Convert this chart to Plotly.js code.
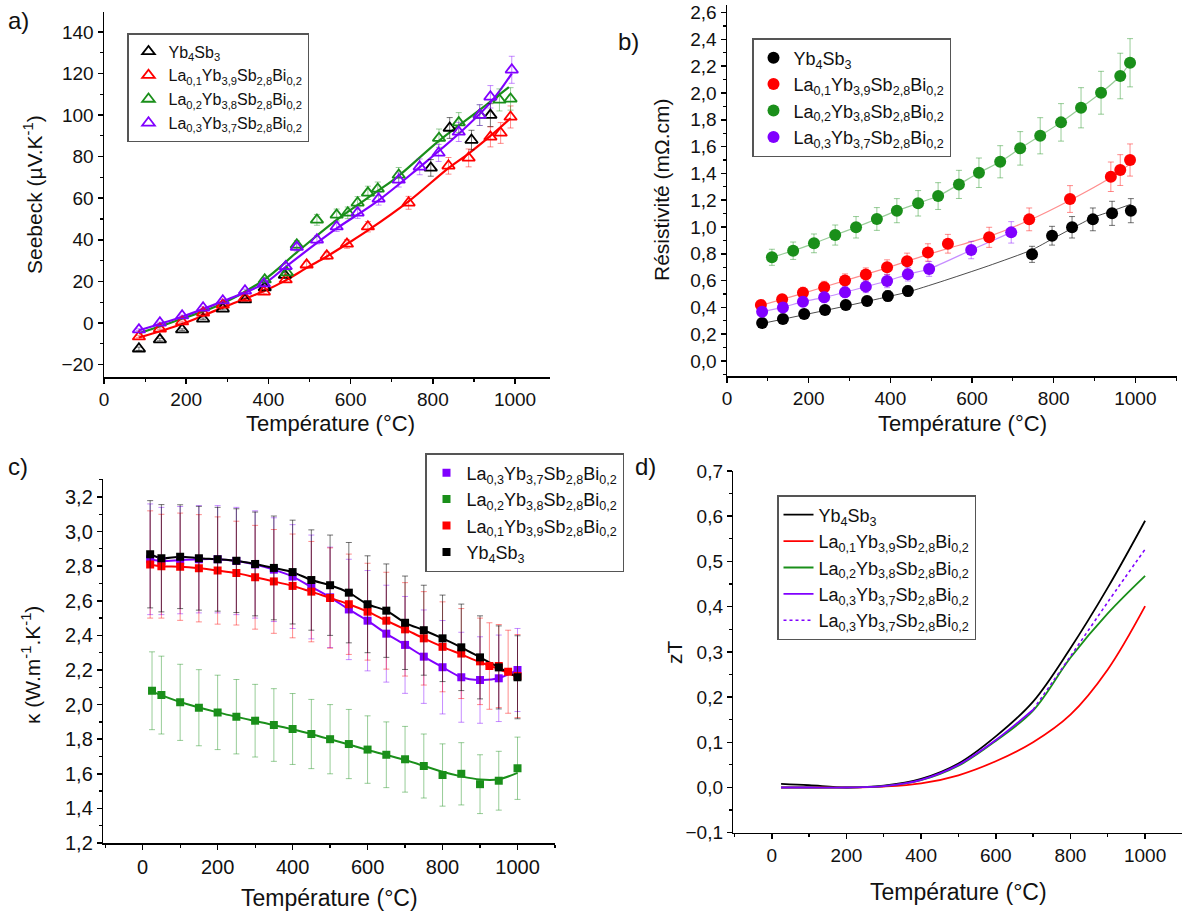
<!DOCTYPE html>
<html><head><meta charset="utf-8">
<script src="https://cdn.plot.ly/plotly-3.0.1.min.js"></script>
<style>html,body{margin:0;padding:0;background:#fff}#chart{width:1183px;height:915px}</style>
</head><body><div id="chart"></div>
<script>
// ---------- names ----------
const nameYb  = 'Yb<sub>4</sub>Sb<sub>3</sub>';
const nameLa1 = 'La<sub>0,1</sub>Yb<sub>3,9</sub>Sb<sub>2,8</sub>Bi<sub>0,2</sub>';
const nameLa2 = 'La<sub>0,2</sub>Yb<sub>3,8</sub>Sb<sub>2,8</sub>Bi<sub>0,2</sub>';
const nameLa3 = 'La<sub>0,3</sub>Yb<sub>3,7</sub>Sb<sub>2,8</sub>Bi<sub>0,2</sub>';

// ---------- a) Seebeck ----------
const Ta_Yb = [85,136,190,241,289,343,391,440,795,841,894,940];
const Sa_Yb = [-12.4,-8.0,-3.2,2.0,6.8,11.2,17.0,23.0,74.6,93.8,88.0,100.0];
const Ea_Yb = [0.8,0.6,0.4,0.4,0.5,0.7,1.0,1.3,4.0,5.0,4.7,5.5];
const Ta_La1 = [85,136,190,241,289,343,389,442,493,542,591,642,741,838,887,940,965,989];
const Sa_La1 = [-6.6,-2.8,0.6,4.9,8.7,12.1,15.0,20.8,28.0,32.3,38.0,46.3,57.8,75.6,79.4,89.5,91.4,99.1];
const Ea_La1 = [0.5,0.4,0.3,0.4,0.6,0.8,1.0,1.3,1.6,1.8,2.1,2.5,3.1,4.0,4.3,4.8,5.0,5.3];
const Ta_La2 = [391,445,469,518,566,593,617,642,666,717,815,863,914,962,989];
const Sa_La2 = [20.8,24.2,37.6,49.6,52.0,53.0,57.8,62.6,64.5,71.2,88.9,96.4,100.0,107.3,107.8];
const Ea_La2 = [1.2,1.4,2.0,2.6,2.8,2.8,3.0,3.2,3.3,3.6,4.4,4.8,5.0,5.3,5.4];
const Ta_La3 = [85,136,190,241,289,343,389,442,469,518,566,617,668,717,768,814,863,914,940,992];
const Sa_La3 = [-3.2,0.1,3.5,7.3,10.7,15.5,18.9,27.2,36.5,40.0,46.3,53.0,59.7,68.8,75.1,81.8,91.9,100.0,108.8,121.8];
const Ea_La3 = [0.4,0.3,0.3,0.5,0.6,0.8,1.0,1.4,1.9,2.0,2.3,2.7,3.0,3.4,3.8,4.1,4.6,5.0,5.4,6.5];
// fitted curves
const FaT_La1 = [85,190,290,391,442,493,542,591,642,741,838,887,940,989];
const FaS_La1 = [-7,-0.5,7.5,15.5,20.5,26.5,32,38,44.5,58.5,74.5,81.5,90,98.5];
const FaT_La2 = [85,190,290,391,469,566,666,717,814,914,985];
const FaS_La2 = [-5,2,9.5,21,34,49.6,63.5,70.8,87.5,102.5,113.5];
const FaT_La3 = [85,190,290,390,442,518,566,668,768,863,940,992];
const FaS_La3 = [-3.5,3,10.5,19,27,38.5,45.5,59,75,91,106,120];

// ---------- b) Resistivity ----------
const Tb_Yb = [86,137,189,240,291,343,394,443,747,796,845,896,943,989];
const Rb_Yb = [0.284,0.313,0.35,0.38,0.418,0.448,0.485,0.522,0.796,0.935,0.998,1.057,1.102,1.122];
const Eb_Yb = [0.025,0.025,0.03,0.03,0.035,0.035,0.04,0.04,0.06,0.07,0.08,0.085,0.09,0.09];
const Tb_La1 = [83,135,186,238,289,340,392,441,492,541,642,740,840,940,963,987];
const Rb_La1 = [0.418,0.46,0.51,0.55,0.60,0.645,0.70,0.745,0.81,0.875,0.923,1.057,1.209,1.375,1.425,1.5];
const Eb_La1 = [0.03,0.035,0.04,0.045,0.05,0.05,0.055,0.06,0.065,0.07,0.075,0.085,0.1,0.11,0.115,0.12];
const Tb_La2 = [110,162,213,265,316,367,416,468,517,568,617,669,718,767,818,867,916,963,987];
const Rb_La2 = [0.774,0.823,0.878,0.94,0.998,1.06,1.122,1.177,1.231,1.318,1.405,1.487,1.587,1.681,1.781,1.89,2.002,2.127,2.226];
const Eb_La2 = [0.06,0.065,0.07,0.075,0.08,0.085,0.09,0.095,0.1,0.105,0.11,0.12,0.125,0.135,0.14,0.15,0.16,0.17,0.18];
const Tb_La3 = [86,137,186,238,289,340,392,443,495,598,696];
const Rb_La3 = [0.368,0.40,0.443,0.475,0.513,0.555,0.597,0.647,0.687,0.828,0.96];
const Eb_La3 = [0.03,0.03,0.035,0.04,0.04,0.045,0.05,0.05,0.055,0.065,0.08];
// fitted curves
const FbT_Yb = [86,189,291,394,443,522,640,747,796,845,896,943,989];
const FbR_Yb = [0.28,0.345,0.41,0.48,0.515,0.59,0.71,0.83,0.91,0.99,1.07,1.12,1.17];
const FbT_La1 = [83,186,289,392,441,492,541,642,740,840,940,987];
const FbR_La1 = [0.415,0.505,0.60,0.695,0.745,0.795,0.84,0.93,1.05,1.2,1.37,1.47];

// ---------- c) Thermal conductivity ----------
const Tc = [20,50,100,150,200,250,300,350,400,450,500,550,600,650,700,750,800,850,900,950,1000];
const Kc_Yb  = [2.869,2.846,2.855,2.846,2.84,2.832,2.813,2.79,2.766,2.72,2.69,2.647,2.58,2.543,2.473,2.43,2.383,2.331,2.273,2.215,2.158];
const Ec_Yb  = [0.31,0.31,0.30,0.30,0.30,0.30,0.30,0.30,0.30,0.29,0.29,0.29,0.28,0.27,0.27,0.26,0.25,0.25,0.24,0.24,0.24];
const Kc_La3 = [2.84,2.83,2.835,2.84,2.84,2.83,2.81,2.78,2.74,2.68,2.62,2.55,2.485,2.41,2.345,2.277,2.216,2.158,2.142,2.152,2.2];
const Ec_La3 = [0.32,0.31,0.31,0.31,0.31,0.31,0.31,0.30,0.30,0.30,0.29,0.29,0.29,0.28,0.28,0.27,0.27,0.26,0.25,0.25,0.24];
const Tc_La1 = [20,50,100,150,200,250,300,350,400,450,500,550,600,650,700,750,800,850,900,925,950,975,1000];
const Kc_La1 = [2.81,2.80,2.797,2.788,2.775,2.76,2.736,2.712,2.686,2.653,2.616,2.58,2.537,2.485,2.435,2.383,2.334,2.295,2.25,2.223,2.223,2.19,2.165];
const Ec_La1 = [0.31,0.30,0.31,0.31,0.31,0.30,0.30,0.30,0.30,0.29,0.29,0.29,0.28,0.28,0.27,0.27,0.26,0.26,0.25,0.25,0.24,0.24,0.24];
const FcK_La1 = [2.81,2.80,2.797,2.788,2.775,2.76,2.736,2.712,2.686,2.653,2.616,2.58,2.537,2.485,2.435,2.383,2.334,2.29,2.245,2.205,2.16];
const Tc_La2 = [25,50,100,150,200,250,300,350,400,450,500,550,600,650,700,750,800,850,900,950,1000];
const Kc_La2 = [2.08,2.055,2.013,1.982,1.955,1.93,1.907,1.882,1.859,1.83,1.80,1.772,1.74,1.71,1.684,1.645,1.593,1.6,1.54,1.56,1.632];
const Ec_La2 = [0.225,0.225,0.22,0.22,0.215,0.215,0.21,0.21,0.205,0.2,0.2,0.2,0.195,0.19,0.19,0.185,0.18,0.18,0.17,0.17,0.18];
const FcT_La2 = [25,100,200,300,400,500,600,700,800,850,900,950,1000];
const FcK_La2 = [2.075,2.015,1.955,1.905,1.858,1.80,1.738,1.68,1.612,1.585,1.567,1.568,1.605];

// ---------- d) zT ----------
const Td = [25,100,200,300,400,500,600,700,800,900,1000];
const Zd_Yb  = [0.008,0.005,0.0,0.004,0.019,0.053,0.113,0.19,0.308,0.442,0.59];
const Zd_La1 = [0.0,0.0,0.0,0.002,0.009,0.027,0.058,0.1,0.161,0.261,0.401];
const Zd_La2 = [0.0,0.0,0.0,0.003,0.016,0.048,0.103,0.17,0.287,0.385,0.468];
const Td_La3 = [25,100,200,300,400,500,600,700];
const Zd_La3 = [0.0,0.0,0.0,0.003,0.017,0.05,0.105,0.172];
const Td_La3x = [700,800,900,1000];
const Zd_La3x = [0.172,0.29,0.41,0.527];

// ---------- styling ----------
const W = 1183, H = 915;
const F = 'Liberation Sans, Arial, sans-serif';
const C = {k:'#000000', r:'#ff0000', g:'#1a8f1a', p:'#8000ff'};
const CL = {k:'rgba(0,0,0,0.55)', r:'rgba(255,0,0,0.45)', g:'rgba(26,143,26,0.45)', p:'rgba(128,0,255,0.45)'};
const fx = p => p / W, fy = p => 1 - p / H;

function ax(dom, range, dtick, minor, fmt, fs, extra) {
  return Object.assign({
    domain: dom, range: range, autorange: false, showline: true, linecolor: '#000', linewidth: 1.5,
    ticks: 'outside', ticklen: 5, tickwidth: 1.5, tickcolor: '#000', dtick: dtick, tick0: 0,
    minor: {ticks: 'outside', ticklen: 3, tickwidth: 1.2, tickcolor: '#000', dtick: minor, tick0: 0, showgrid: false},
    showgrid: false, zeroline: false, tickformat: fmt, fixedrange: true,
    tickfont: {family: F, size: fs, color: '#111'}
  }, extra || {});
}
function mirror(base, over, side, anchor) {
  const m = JSON.parse(JSON.stringify(base));
  delete m.domain;
  m.overlaying = over; m.side = side; m.anchor = anchor;
  m.ticks = 'inside'; m.minor.ticks = 'inside'; m.showticklabels = false;
  return m;
}

const panels = {
  a: {x: [104, 550], y: [12, 377], xr: [0, 1085], yr: [-26, 149.6], yd: 20, ym: 10, yf: '', fs: 19},
  b: {x: [727, 1177], y: [5, 376], xr: [0, 1102], yr: [-0.112, 2.657], yd: 0.2, ym: 0.1, yf: '.1f', fs: 19},
  c: {x: [103.3, 555], y: [479, 843], xr: [-105, 1100], yr: [1.2, 3.304], yd: 0.2, ym: 0.1, yf: '.1f', fs: 20},
  d: {x: [733.3, 1181.7], y: [471, 832.7], xr: [-103, 1098], yr: [-0.1, 0.7], yd: 0.1, ym: 0.05, yf: '.1f', fs: 19}
};

const layout = {
  width: W, height: H, margin: {l: 0, r: 0, t: 0, b: 0}, paper_bgcolor: '#fff', plot_bgcolor: '#fff',
  separators: ', ', font: {family: F, color: '#111'}, annotations: []
};
['a', 'b', 'c', 'd'].forEach((k, i) => {
  const P = panels[k], n = i + 1, s = n === 1 ? '' : String(n);
  const xa = ax([fx(P.x[0]), fx(P.x[1])], P.xr, 200, 100, '', P.fs, {anchor: 'y' + s});
  const ya = ax([fy(P.y[1]), fy(P.y[0])], P.yr, P.yd, P.ym, P.yf, P.fs, {anchor: 'x' + s});
  layout['xaxis' + s] = xa;
  layout['yaxis' + s] = ya;
  layout['xaxis' + (n + 4)] = mirror(xa, 'x' + s, 'top', 'y' + s);
  layout['yaxis' + (n + 4)] = mirror(ya, 'y' + s, 'right', 'x' + s);
});

function legendBox(xp, yp, fs) {
  return {x: fx(xp), y: fy(yp), xanchor: 'left', yanchor: 'top', bgcolor: '#fff', bordercolor: '#555',
    borderwidth: 1.5, font: {family: F, size: fs, color: '#111'}, tracegroupgap: 0, itemwidth: 30};
}
layout.legend = legendBox(127, 33, 16);
layout.legend2 = legendBox(752, 38, 18);
layout.legend3 = legendBox(425, 453, 18);
layout.legend4 = legendBox(777, 495, 18);

function ann(text, xp, yp, size, angle) {
  layout.annotations.push({text: text, x: fx(xp), y: fy(yp), xref: 'paper', yref: 'paper', xanchor: 'center', yanchor: 'middle',
    showarrow: false, textangle: angle || 0, font: {family: F, size: size, color: '#111'}});
}
ann('a)', 18, 20, 24); ann('b)', 628, 42, 24); ann('c)', 18, 467, 24); ann('d)', 645, 466, 24);
ann('Seebeck (µV.K<sup>-1</sup>)', 33, 195, 21, -90);
ann('Température (°C)', 330, 423, 22);
ann('Résistivité (mΩ.cm)', 661, 190, 21, -90);
ann('Température (°C)', 962, 424, 22);
ann('κ (W.m<sup>-1</sup>.K<sup>-1</sup>)', 31, 665, 21, -90);
ann('Température (°C)', 329, 898, 23);
ann('zT', 674, 652, 21, -90);
ann('Température (°C)', 958, 892, 23);

// ---------- traces ----------
const traces = [];
function errY(arr, col) { return {type: 'data', array: arr, visible: true, color: col, thickness: 1, width: 3}; }

// a) fits then markers
[[FaT_La1, FaS_La1, 'r'], [FaT_La2, FaS_La2, 'g'], [FaT_La3, FaS_La3, 'p']].forEach(f => traces.push({
  x: f[0], y: f[1], xaxis: 'x', yaxis: 'y', mode: 'lines', line: {color: C[f[2]], width: 2.2, shape: 'spline', smoothing: 1},
  showlegend: false, hoverinfo: 'skip'}));
[[Ta_Yb, Sa_Yb, Ea_Yb, 'k', nameYb], [Ta_La1, Sa_La1, Ea_La1, 'r', nameLa1], [Ta_La2, Sa_La2, Ea_La2, 'g', nameLa2], [Ta_La3, Sa_La3, Ea_La3, 'p', nameLa3]]
  .forEach(d => traces.push({x: d[0], y: d[1], xaxis: 'x', yaxis: 'y', mode: 'markers', name: d[4], legend: 'legend',
    marker: {symbol: 'triangle-up-open', size: 11, color: C[d[3]], line: {width: 1.8, color: C[d[3]]}},
    error_y: errY(d[2], CL[d[3]])}));

// b) thin curves then markers
traces.push({x: FbT_Yb, y: FbR_Yb, xaxis: 'x2', yaxis: 'y2', mode: 'lines', line: {color: 'rgba(0,0,0,0.7)', width: 1, shape: 'spline', smoothing: 0.6}, showlegend: false, hoverinfo: 'skip'});
[[FbT_La1, FbR_La1, 'r'], [Tb_La2, Rb_La2, 'g'], [Tb_La3, Rb_La3, 'p']].forEach(f => traces.push({
  x: f[0], y: f[1], xaxis: 'x2', yaxis: 'y2', mode: 'lines', line: {color: CL[f[2]], width: 1.2, shape: 'spline', smoothing: 0.6}, showlegend: false, hoverinfo: 'skip'}));
[[Tb_Yb, Rb_Yb, Eb_Yb, 'k', nameYb], [Tb_La1, Rb_La1, Eb_La1, 'r', nameLa1], [Tb_La2, Rb_La2, Eb_La2, 'g', nameLa2], [Tb_La3, Rb_La3, Eb_La3, 'p', nameLa3]]
  .forEach(d => traces.push({x: d[0], y: d[1], xaxis: 'x2', yaxis: 'y2', mode: 'markers', name: d[4], legend: 'legend2',
    marker: {symbol: 'circle', size: 12, color: C[d[3]]}, error_y: errY(d[2], CL[d[3]])}));

// c) curves then markers (legend order: La0.3, La0.2, La0.1, Yb4Sb3)
[[Tc, Kc_La3, 'p'], [FcT_La2, FcK_La2, 'g'], [Tc, FcK_La1, 'r'], [Tc, Kc_Yb, 'k']].forEach(f => traces.push({
  x: f[0], y: f[1], xaxis: 'x3', yaxis: 'y3', mode: 'lines', line: {color: C[f[2]], width: 2, shape: 'spline', smoothing: 0.8}, showlegend: false, hoverinfo: 'skip'}));
[[Tc, Kc_La3, Ec_La3, 'p', nameLa3], [Tc_La2, Kc_La2, Ec_La2, 'g', nameLa2], [Tc_La1, Kc_La1, Ec_La1, 'r', nameLa1], [Tc, Kc_Yb, Ec_Yb, 'k', nameYb]]
  .forEach(d => traces.push({x: d[0], y: d[1], xaxis: 'x3', yaxis: 'y3', mode: 'markers', name: d[4], legend: 'legend3',
    marker: {symbol: 'square', size: 8, color: C[d[3]]}, error_y: errY(d[2], CL[d[3]])}));

// d) zT curves
[[Td, Zd_Yb, 'k', nameYb, 'solid'], [Td, Zd_La1, 'r', nameLa1, 'solid'], [Td, Zd_La2, 'g', nameLa2, 'solid'],
 [Td_La3, Zd_La3, 'p', nameLa3, 'solid'], [Td_La3x, Zd_La3x, 'p', nameLa3, 'dot']]
  .forEach(d => traces.push({x: d[0], y: d[1], xaxis: 'x4', yaxis: 'y4', mode: 'lines', name: d[3], legend: 'legend4',
    line: {color: C[d[2]], width: d[4] === 'dot' ? 1.6 : 1.8, dash: d[4], shape: 'spline'}}));

Plotly.newPlot('chart', traces, layout, {staticPlot: true, displayModeBar: false});
</script></body></html>
